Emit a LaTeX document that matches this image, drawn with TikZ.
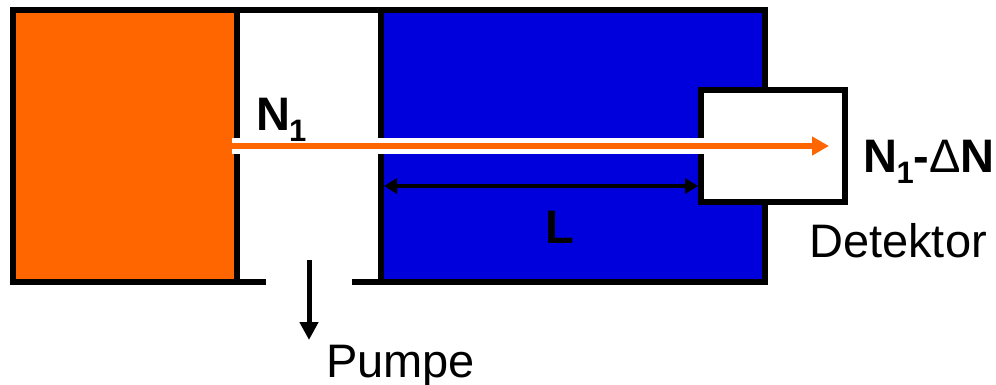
\documentclass[tikz,border=0pt]{standalone}
\usepackage{fontspec}
\setmainfont{Liberation Sans}
\usetikzlibrary{arrows.meta}
\definecolor{orangefill}{HTML}{FF6600}
\definecolor{bluefill}{HTML}{0000DD}
\newcommand{\bigfont}{\fontsize{47}{50}\selectfont}
\newcommand{\subfont}{\fontsize{31}{34}\selectfont}
\tikzset{
  frame/.style={draw=black,line width=6pt,line cap=butt,line join=miter},
  boldlabel/.style={inner sep=0pt,font=\bigfont\bfseries,text=black},
  plainlabel/.style={inner sep=0pt,font=\bigfont,text=black},
  blackarrow/.style={draw=black,line width=#1},
  beamhalo/.style={draw=white,line width=16pt},
  beam/.style={draw=orangefill,line width=6pt,-{Triangle[length=17pt,width=18pt]}},
}
\begin{document}
\begin{tikzpicture}[x=1pt,y=-1pt]
\useasboundingbox (0,0) rectangle (996,384);
% fills
\fill[orangefill] (13,10) rectangle (237,282);
\fill[bluefill] (381,10) rectangle (765,282);
% outer frame and walls
\draw[frame] (266,282) -- (13,282) -- (13,10) -- (765,10) -- (765,282) -- (352,282);
\draw[frame] (237,10) -- (237,282);
\draw[frame] (381,10) -- (381,282);
% detector
\node[frame,fill=white,minimum width=144pt,minimum height=112pt,inner sep=0pt,outer sep=0pt,anchor=north west] (det) at (701,90) {};
% beam
\coordinate (beamstart) at (232,146);
\coordinate (halostop) at (704,146);
\coordinate (beamtip) at (829,146);
\draw[beamhalo] (beamstart) -- (halostop);
\draw[beam] (beamstart) -- (beamtip);
% length arrow
\coordinate (lenleft) at (384,186);
\coordinate (lenright) at (698,186);
\draw[blackarrow=4pt,{Triangle[length=13pt,width=15pt]}-{Triangle[length=13pt,width=15pt]}] (lenleft) -- (lenright);
% pump arrow
\coordinate (pumptop) at (309,260);
\coordinate (pumptip) at (309,340);
\draw[blackarrow=5pt,-{Triangle[length=18pt,width=18pt]}] (pumptop) -- (pumptip);
% labels
\node[boldlabel,anchor=base west] (n1) at (256,130) {N\kern-1pt\raisebox{-11pt}{\subfont 1}};
\node[boldlabel,anchor=base west] (n1dn) at (863.5,172) {N\kern-1pt\raisebox{-11pt}{\subfont 1}-{\mdseries Δ}N};
\node[boldlabel,anchor=base west] (lenlabel) at (545,243) {L};
\node[plainlabel,anchor=base west] (detlabel) at (809,257) {Detektor};
\node[plainlabel,anchor=base west] (pumplabel) at (326,377) {Pumpe};
\end{tikzpicture}
\end{document}
